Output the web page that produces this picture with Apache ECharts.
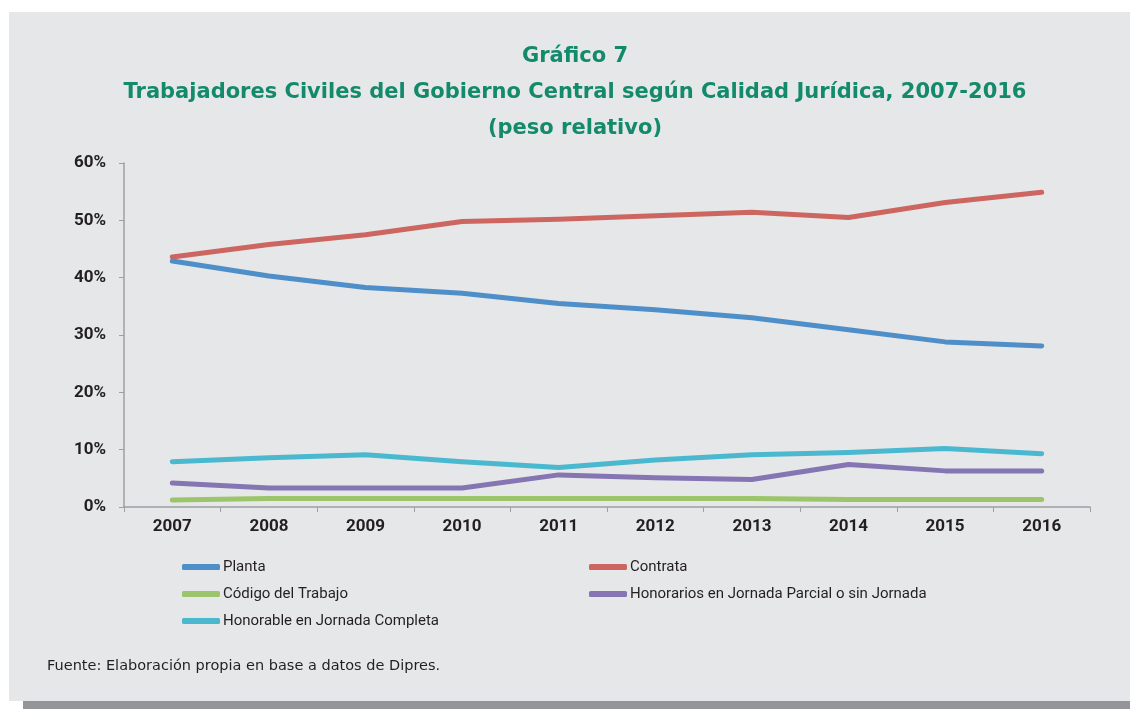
<!DOCTYPE html>
<html>
<head>
<meta charset="utf-8">
<script src="https://cdn.jsdelivr.net/npm/echarts@6/dist/echarts.min.js"></script>
<style>
html,body{margin:0;padding:0;background:#fff;}
#c{width:1130px;height:709px;}
</style>
</head>
<body>
<div id="c"></div>
<script>
var years = ['2007','2008','2009','2010','2011','2012','2013','2014','2015','2016'];
var planta = [42.9, 40.3, 38.3, 37.3, 35.5, 34.4, 33.0, 30.9, 28.8, 28.1];
var contrata = [43.6, 45.8, 47.5, 49.8, 50.2, 50.8, 51.4, 50.5, 53.1, 54.9];
var codigo = [1.2, 1.5, 1.5, 1.5, 1.5, 1.5, 1.5, 1.3, 1.3, 1.3];
var honParcial = [4.2, 3.3, 3.3, 3.3, 5.6, 5.1, 4.8, 7.4, 6.3, 6.3];
var honCompleta = [7.9, 8.6, 9.1, 7.9, 6.9, 8.2, 9.1, 9.5, 10.2, 9.3];
var yTicks = [0, 10, 20, 30, 40, 50, 60];

var condensed = 'Roboto, "Liberation Sans", sans-serif';
var chart = echarts.init(document.getElementById('c'), null, {renderer: 'canvas'});

function mk(name, data, color) {
  return {
    name: name, type: 'line', data: data, symbol: 'none', smooth: false,
    lineStyle: {width: 5, color: color, cap: 'round', join: 'round'},
    itemStyle: {color: color}
  };
}

var option = {
  backgroundColor: '#ffffff',
  animation: false,
  title: {
    text: 'Gráfico 7\nTrabajadores Civiles del Gobierno Central según Calidad Jurídica, 2007-2016\n(peso relativo)',
    left: 570, top: 34, textAlign: 'center',
    textStyle: {fontFamily: '"DejaVu Sans", sans-serif', fontWeight: 'bold', fontSize: 21, lineHeight: 36, color: '#138a6b'}
  },
  graphic: [
    {type: 'rect', z: -10, shape: {x: 9, y: 12, width: 1121, height: 689}, style: {fill: '#e6e7e8'}},
    {type: 'rect', z: -10, shape: {x: 23, y: 701, width: 1107, height: 8}, style: {fill: '#939598'}},
    {type: 'text', left: 47, top: 659, style: {text: 'Fuente: Elaboración propia en base a datos de Dipres.', fontFamily: '"DejaVu Sans", sans-serif', fontSize: 14.5, fill: '#231f20'}}
  ],
  grid: {left: 124, right: 40, top: 163, bottom: 202, containLabel: false},
  legend: [
    {
      orient: 'vertical', left: 177, top: 552, itemWidth: 38, itemHeight: 6, itemGap: 7,
      icon: 'roundRect',
      data: ['Planta', 'Código del Trabajo', 'Honorable en Jornada Completa'],
      textStyle: {fontFamily: condensed, fontSize: 15, color: '#231f20', lineHeight: 20, padding: [0,0,0,-2]}
    },
    {
      orient: 'vertical', left: 584, top: 552, itemWidth: 38, itemHeight: 6, itemGap: 7,
      icon: 'roundRect',
      data: ['Contrata', 'Honorarios en Jornada Parcial o sin Jornada'],
      textStyle: {fontFamily: condensed, fontSize: 15, color: '#231f20', lineHeight: 20, padding: [0,0,0,-2]}
    }
  ],
  xAxis: {
    type: 'category', data: years, boundaryGap: true,
    axisLine: {lineStyle: {color: '#9d9fa2', width: 1.5}},
    axisTick: {show: true, length: 5, lineStyle: {color: '#9d9fa2'}},
    axisLabel: {fontFamily: condensed, fontSize: 17, fontWeight: 'bold', color: '#231f20', margin: 11}
  },
  yAxis: {
    type: 'value', min: yTicks[0], max: yTicks[yTicks.length - 1], interval: 10,
    axisLine: {show: true, lineStyle: {color: '#9d9fa2', width: 1.5}},
    axisTick: {show: true, length: 5, lineStyle: {color: '#9d9fa2'}},
    splitLine: {show: false},
    axisLabel: {formatter: '{value}%', fontFamily: condensed, fontSize: 17, fontWeight: 'bold', color: '#231f20', margin: 18}
  },
  series: [
    mk('Contrata', contrata, '#cd6660'),
    mk('Planta', planta, '#4f8fc9'),
    mk('Código del Trabajo', codigo, '#9bc46b'),
    mk('Honorarios en Jornada Parcial o sin Jornada', honParcial, '#8576b3'),
    mk('Honorable en Jornada Completa', honCompleta, '#4ab9cf')
  ]
};
chart.setOption(option);
</script>
</body>
</html>
